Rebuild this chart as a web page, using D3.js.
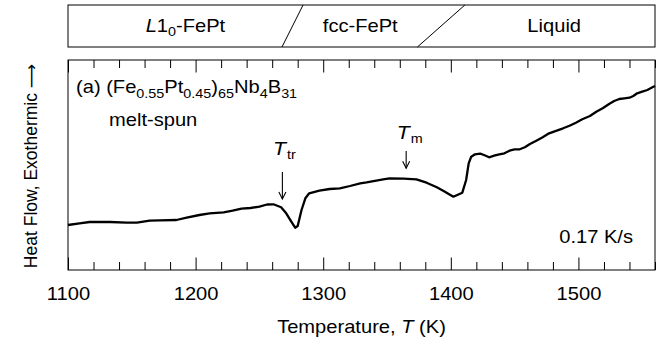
<!DOCTYPE html>
<html><head><meta charset="utf-8">
<script src="https://cdn.jsdelivr.net/npm/d3@7"></script>
<style>
body{margin:0;background:#fff}
text{font-family:"Liberation Sans",Arial,Helvetica,sans-serif;fill:#000}
</style>
</head><body>
<svg id="c" width="659" height="344"></svg>
<script>
// ---- data ----
const temps = [1100,1109,1117,1133,1146,1154,1164,1172,1185,1193,1203,1211,1222,1229,1236,1243,1250,1256,1261,1267,1271,1275,1278,1280,1283,1286,1289,1297,1305,1313,1321,1329,1334,1347,1352,1363,1373,1381,1389,1394,1402,1409,1412,1414,1416,1419,1423,1426,1430,1434,1438,1442,1446,1450,1454,1458,1462,1467,1472,1477,1483,1488,1493,1498,1503,1509,1514,1519,1524,1528,1532,1536,1540,1543,1546,1550,1554,1558,1560];
const heatFlow = [45,46.7,48,48,47.3,47.3,49.3,49.7,50,52.3,55,56.7,57.7,59.3,61.3,62,63.3,65.5,65.7,62.7,56.7,48.3,42.3,44,60,71.7,76.7,79.3,81,81.7,84,86.7,87.7,90.7,91.7,91.3,90.7,87.3,82.7,79.3,73.3,77.3,90,106.7,113.3,115.7,116.3,115,112.7,114.3,115.7,116.7,119.3,120.7,120.7,122.7,126,129.3,132.7,136.7,139.3,141.7,144.3,147.3,150.7,154,158.3,161.7,166,169,171,171.7,172.3,174,176.7,178.3,180,182.7,184];
const majorTicks = [1100,1200,1300,1400,1500];
const tickLabels = ["1100","1200","1300","1400","1500"];
const phaseLabelT = [1192,1329,1481];
const phaseBoundsBottom = [1267.7,1373.8];
const phaseBoundsTop = [1284.2,1411];
const transitionNames = ["tr","m"];
const transitionT = [1268,1365];

// ---- layout ----
const SX = 1.15, FS = 17.5;
const svg = d3.select("#c");
const x = d3.scaleLinear().domain([1100,1560]).range([68,655]);
const y = d3.scaleLinear().domain([0,210]).range([270,60]);
const minorTicks = d3.range(1100,1561,20).filter(d=>!majorTicks.includes(d));

function stretchText(g, px, py, size){
  return g.append("text").attr("transform",`translate(${px},${py}) scale(${SX},1)`).style("font-size",size+"px");
}

// ---- phase box ----
const top0 = 5, top1 = 47;
svg.append("rect").attr("x",x(1100)).attr("y",top0).attr("width",x(1560)-x(1100)).attr("height",top1-top0)
  .attr("fill","none").attr("stroke","#000").attr("stroke-width",1);
phaseBoundsBottom.forEach((b,i)=>{
  svg.append("line").attr("x1",x(b)).attr("y1",top1).attr("x2",x(phaseBoundsTop[i])).attr("y2",top0)
    .attr("stroke","#000").attr("stroke-width",1);
});
{
  let t = stretchText(svg, x(phaseLabelT[0]), 32, FS).attr("text-anchor","middle");
  t.append("tspan").style("font-style","italic").text("L");
  t.append("tspan").text("1");
  t.append("tspan").attr("dy",4).style("font-size","12.5px").text("0");
  t.append("tspan").attr("dy",-4).text("-FePt");
  stretchText(svg, x(phaseLabelT[1]), 32, FS).attr("text-anchor","middle").text("fcc-FePt");
  stretchText(svg, x(phaseLabelT[2]), 32, FS).attr("text-anchor","middle").text("Liquid");
}

// ---- axes ----
function styleAxis(g){ g.attr("font-size",null).attr("font-family",null); g.select(".domain").remove(); g.selectAll("line").attr("stroke","#000"); }
const gb = svg.append("g").attr("transform","translate(0,270)")
  .call(d3.axisBottom(x).tickValues(majorTicks).tickSize(-12.5).tickFormat((d,i)=>tickLabels[i]));
styleAxis(gb);
gb.selectAll("text").attr("y",null).attr("dy",null)
  .attr("transform",`translate(0,30) scale(${SX},1)`).style("font-size",FS+"px");
const gbm = svg.append("g").attr("transform","translate(0,270)")
  .call(d3.axisBottom(x).tickValues(minorTicks).tickSize(-8).tickFormat(""));
styleAxis(gbm);
const gt = svg.append("g").attr("transform","translate(0,60)")
  .call(d3.axisTop(x).tickValues(majorTicks).tickSize(-12.5).tickFormat(""));
styleAxis(gt);
const gtm = svg.append("g").attr("transform","translate(0,60)")
  .call(d3.axisTop(x).tickValues(minorTicks).tickSize(-8).tickFormat(""));
styleAxis(gtm);

svg.append("rect").attr("x",x(1100)).attr("y",y(210)).attr("width",x(1560)-x(1100)).attr("height",y(0)-y(210))
  .attr("fill","none").attr("stroke","#000").attr("stroke-width",1);

// ---- curve ----
const pts = temps.map((t,i)=>[t,heatFlow[i]]);
svg.append("path").datum(pts)
  .attr("d", d3.line().x(d=>x(d[0])).y(d=>y(d[1])))
  .attr("fill","none").attr("stroke","#000").attr("stroke-width",2.3).attr("stroke-linejoin","round");

// ---- annotations ----
{
  let t = stretchText(svg, 76, 93, FS);
  t.append("tspan").text("(a) (Fe");
  t.append("tspan").attr("dy",5).style("font-size","12.5px").text("0.55");
  t.append("tspan").attr("dy",-5).text("Pt");
  t.append("tspan").attr("dy",5).style("font-size","12.5px").text("0.45");
  t.append("tspan").attr("dy",-5).text(")");
  t.append("tspan").attr("dy",5).style("font-size","12.5px").text("65");
  t.append("tspan").attr("dy",-5).text("Nb");
  t.append("tspan").attr("dy",5).style("font-size","12.5px").text("4");
  t.append("tspan").attr("dy",-5).text("B");
  t.append("tspan").attr("dy",5).style("font-size","12.5px").text("31");
  stretchText(svg, 109, 126, FS).text("melt-spun");
}
const arrowFrom = [98,119], arrowTo = [71,101.7], labelBase = [155,139];
transitionT.forEach((T,i)=>{
  const ax = x(T), y1 = y(arrowFrom[i]), y2 = y(arrowTo[i]);
  svg.append("line").attr("x1",ax).attr("y1",y1).attr("x2",ax).attr("y2",y2).attr("stroke","#000").attr("stroke-width",1.1);
  svg.append("path").attr("d",`M${ax-3.5},${y2-7}L${ax},${y2}L${ax+3.5},${y2-7}`).attr("fill","none").attr("stroke","#000").attr("stroke-width",1.1);
  let t = stretchText(svg, ax-9.5, labelBase[i], FS+1);
  t.append("tspan").style("font-style","italic").text("T");
  t.append("tspan").attr("dy",4).attr("dx",1).style("font-size","12.5px").text(transitionNames[i]);
});
stretchText(svg, 633, 243, FS).attr("text-anchor","end").text("0.17 K/s");

// ---- axis titles ----
{
  let t = stretchText(svg, x(1330), 333, FS).attr("text-anchor","middle");
  t.append("tspan").text("Temperature, ");
  t.append("tspan").style("font-style","italic").text("T");
  t.append("tspan").text(" (K)");
}
{
  let t = svg.append("text").attr("transform","translate(37,166) rotate(-90)").attr("text-anchor","middle")
    .style("font-size","17.5px");
  t.append("tspan").text("Heat Flow, Exothermic ");
  t.append("tspan").style("font-family","'DejaVu Sans',sans-serif").style("font-size","17px").text("\u27F6");
}
</script>
</body></html>
